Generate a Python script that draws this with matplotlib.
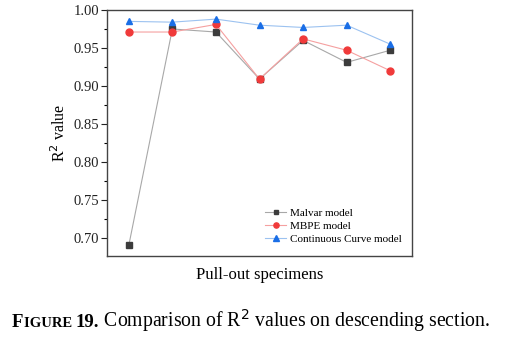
import numpy as np
import matplotlib.pyplot as plt
from matplotlib.ticker import MultipleLocator

plt.rcParams['font.family'] = ['Liberation Serif', 'DejaVu Serif']

specimens = [1, 2, 3, 4, 5, 6, 7]
malvar = [0.690, 0.975, 0.971, 0.909, 0.960, 0.931, 0.947]
mbpe = [0.971, 0.971, 0.981, 0.909, 0.962, 0.947, 0.920]
continuous = [0.985, 0.984, 0.988, 0.980, 0.977, 0.980, 0.955]

fig = plt.figure(figsize=(5.18, 3.39), dpi=100)
ax = fig.add_axes([107 / 518, 1 - 256 / 339, 305 / 518, 246 / 339])

ax.plot(specimens, malvar, color='#a8a8a8', lw=0.8, marker='s', ms=4.5,
        mfc='#3c3c3c', mec='#3c3c3c', label='Malvar model')
ax.plot(specimens, mbpe, color='#f5a0a0', lw=0.8, marker='o', ms=5,
        mfc='#f03a3a', mec='#f03a3a', label='MBPE model')
ax.plot(specimens, continuous, color='#9cc2f0', lw=0.8, marker='^', ms=5,
        mfc='#1a6ee6', mec='#1a6ee6', label='Continuous Curve model')

ax.set_xlim(0.5, 7.5)
ax.set_ylim(0.676, 1.0)
ax.yaxis.set_major_locator(MultipleLocator(0.05))
ax.yaxis.set_minor_locator(MultipleLocator(0.025))
ax.yaxis.set_major_formatter(plt.FormatStrFormatter('%.2f'))
ax.set_xticks([])
ax.tick_params(axis='y', which='major', direction='out', length=4, width=0.8,
               pad=1.5, labelsize=10.5, colors='#222222')
ax.tick_params(axis='y', which='minor', direction='out', length=2.5, width=0.8)
for s in ax.spines.values():
    s.set_color('#444444')
    s.set_linewidth(1.0)

ax.set_ylabel('R$^2$ value', fontsize=11.5, labelpad=3)
ax.set_xlabel('Pull-out specimens', fontsize=12, labelpad=8)

ax.legend(loc='lower right', frameon=False, fontsize=8, handlelength=1.9,
          handletextpad=0.3, labelspacing=0.3, borderaxespad=0.0,
          markerscale=0.75, bbox_to_anchor=(0.98, 0.03))

# caption: small-caps "Figure" label followed by the description
renderer = fig.canvas.get_renderer()
y_base = 1 - 327 / 339
x = 12 / 518
for txt, size, weight in [('F', 13.5, 'bold'), ('IGURE ', 10.5, 'bold'),
                          ('19.', 13.5, 'bold'),
                          (' Comparison of R$^2$ values on descending section.', 14.2, 'normal')]:
    t = fig.text(x, y_base, txt, fontsize=size, fontweight=weight, va='baseline')
    x += t.get_window_extent(renderer).width / fig.bbox.width

fig.savefig('out.png', dpi=100, facecolor='white')
